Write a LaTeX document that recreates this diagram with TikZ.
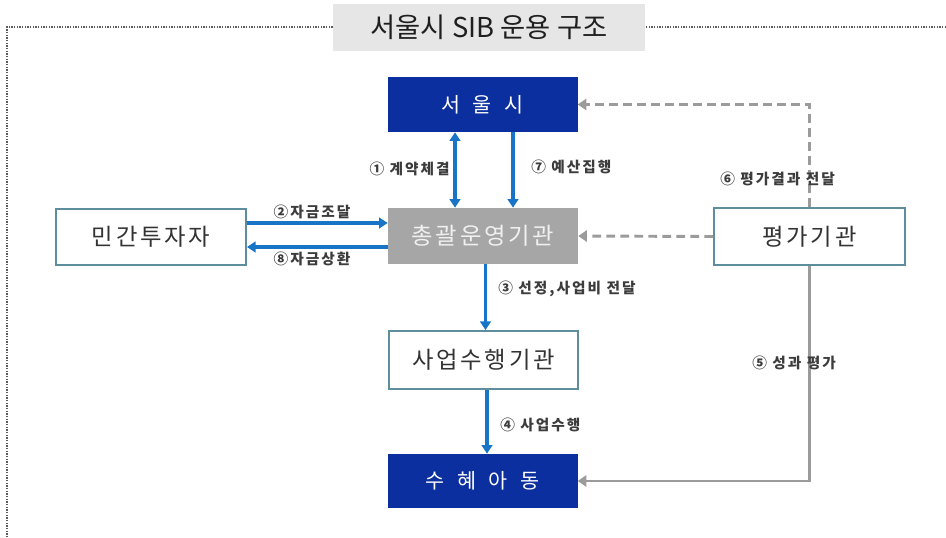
\documentclass[tikz,border=0pt]{standalone}
\usepackage{fontspec}
\setmainfont{Noto Sans CJK KR}
\usetikzlibrary{arrows.meta}
\definecolor{sblue}{HTML}{0B2F9F}
\definecolor{abl}{HTML}{1874C6}
\definecolor{agr}{HTML}{9B9B9B}
\definecolor{bxgray}{HTML}{A6A6A6}
\definecolor{bxedge}{HTML}{5E8E9E}
\definecolor{lbl}{HTML}{3C3C3C}
\definecolor{ttlfill}{HTML}{E6E6E6}
\definecolor{framec}{HTML}{5A5A5A}
\begin{document}
\begin{tikzpicture}[x=0.75pt,y=-0.75pt,
  box/.style={rectangle, minimum width=142.5pt, minimum height=42pt, inner sep=0pt,
    font=\fontsize{17.5pt}{19pt}\selectfont\addfontfeature{LetterSpace=12}},
  whitebox/.style={box, draw=bxedge, line width=1.4pt, fill=white, text=black!80},
  bluebox/.style={box, fill=sblue, text=white,
    font=\fontsize{15.5pt}{18pt}\selectfont\addfontfeature{LetterSpace=38}},
  graybox/.style={box, fill=bxgray, text=white!88!gray},
  lab/.style={inner sep=0pt, text=lbl, font=\fontsize{11pt}{12pt}\selectfont\bfseries\addfontfeature{LetterSpace=14}},
  bluearr/.style={draw=abl, line width=2.4pt, -{Triangle[width=8pt,length=6.5pt]}},
  grayarr/.style={draw=agr, line width=2.2pt, -{Triangle[width=8.5pt,length=6.5pt]}},
  dasharr/.style={grayarr, dash pattern=on 6.5pt off 4pt},
  frameline/.style={draw=framec, line width=1pt, dash pattern=on 1pt off 1pt}
]
\useasboundingbox (0,0) rectangle (946,538);
% frame
\coordinate (fr1) at (946,27);
\coordinate (fr2) at (7,27);
\coordinate (fr3) at (7,538);
\draw[frameline] (fr1) -- (fr2) -- (fr3);
% title
\node[rectangle, fill=ttlfill, minimum width=234pt, minimum height=35.25pt, inner sep=0pt,
  text=black!88, font=\fontsize{20.5pt}{22pt}\selectfont] (title) at (489,27.5) {서울시 SIB 운용 구조};
% boxes
\node[bluebox, minimum height=41.25pt] (seoul) at (482.5,104.5) {서 울 시};
\node[graybox] (zong) at (483,236) {총괄운영기관};
\node[whitebox] (inv) at (151,237) {민간투자자};
\node[whitebox, minimum width=143.25pt, minimum height=42.75pt] (eval) at (809.5,236.5) {평가기관};
\node[whitebox, minimum width=141.75pt, minimum height=43.5pt] (saup) at (483.5,360) {사업수행기관};
\node[bluebox, minimum height=40.5pt] (suhye) at (482.5,481) {수 혜 아 동};
% helper coordinates
\coordinate (x1) at (455,0);
\coordinate (x7) at (513,0);
\coordinate (x3) at (485.5,0);
\coordinate (x4) at (487,0);
\coordinate (y2) at (0,223);
\coordinate (y8) at (0,247);
% blue arrows
\draw[bluearr, {Triangle[width=8pt,length=6.5pt]}-{Triangle[width=8pt,length=6.5pt]}] (seoul.south -| x1) -- (zong.north -| x1);
\draw[bluearr] (seoul.south -| x7) -- (zong.north -| x7);
\draw[bluearr] (inv.east |- y2) -- (zong.west |- y2);
\draw[bluearr] (zong.west |- y8) -- (inv.east |- y8);
\draw[bluearr] (zong.south -| x3) -- (saup.north -| x3);
\draw[bluearr] (saup.south -| x4) -- (suhye.north -| x4);
% gray arrows
\draw[dasharr] (eval.north) |- (seoul.east);
\draw[dasharr] (eval.west) -- (zong.east);
\draw[grayarr] (eval.south) |- (suhye.east);
% labels
\node[lab, anchor=east] (l1) at (450,169) {① 계약체결};
\node[lab, anchor=west] (l7) at (531,167) {⑦ 예산집행};
\node[lab] (l2) at (312,212) {②자금조달};
\node[lab] (l8) at (312,259) {⑧자금상환};
\node[lab, anchor=west] (l6) at (720,179) {⑥ 평가결과 전달};
\node[lab, anchor=west] (l3) at (498,289) {③ 선정,사업비 전달};
\node[lab, anchor=west] (l5) at (752,363) {⑤ 성과 평가};
\node[lab, anchor=west] (l4) at (500,425) {④ 사업수행};
\end{tikzpicture}
\end{document}
